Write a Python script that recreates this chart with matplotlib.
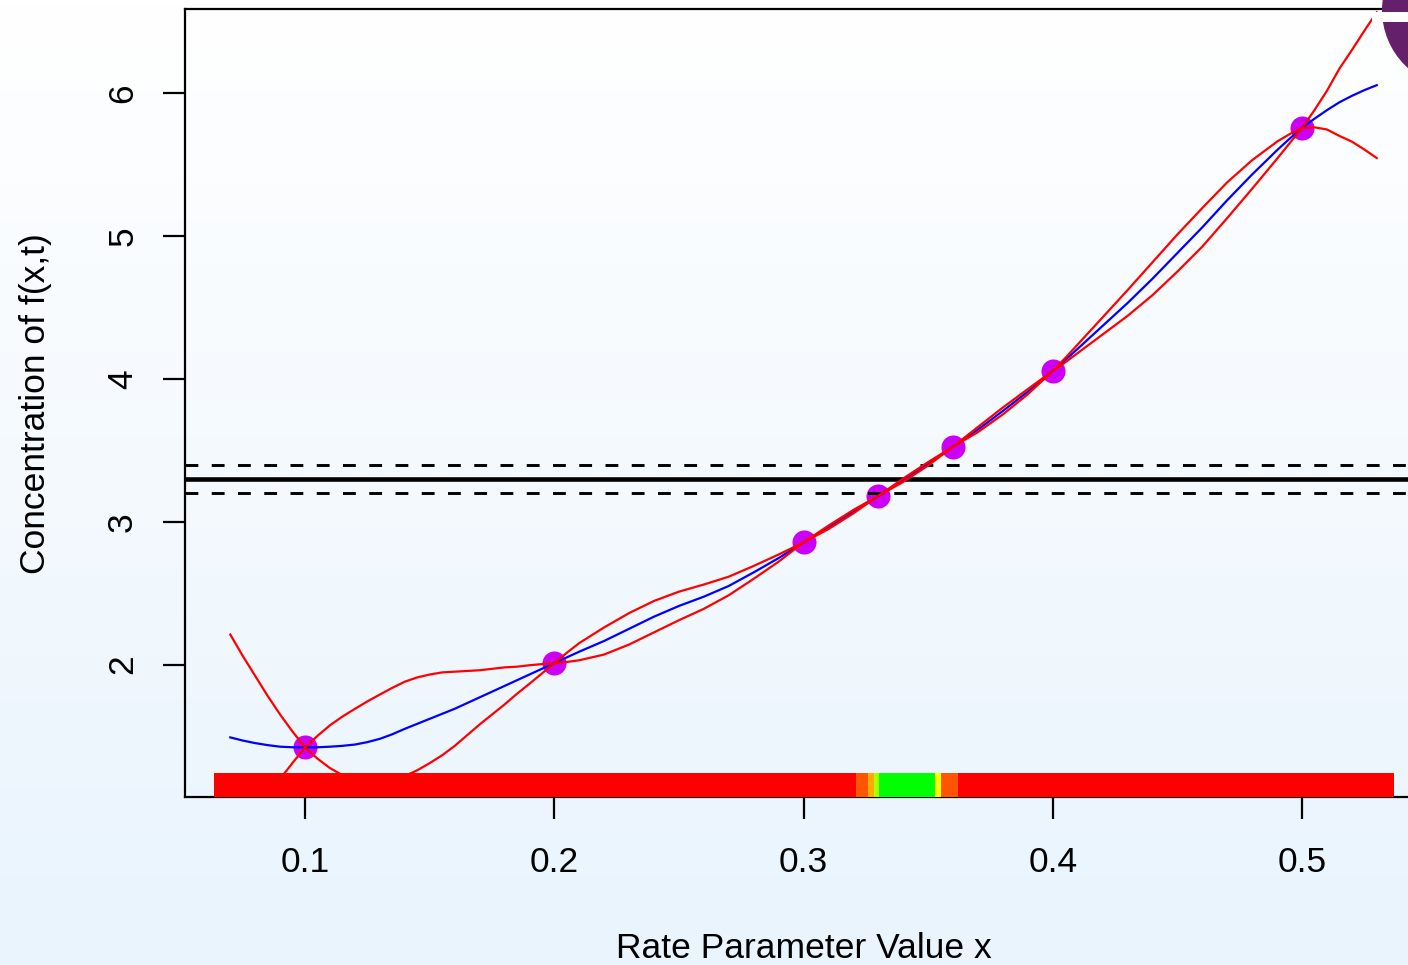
import numpy as np
import matplotlib.pyplot as plt
from matplotlib.patches import Rectangle, Ellipse

plt.rcParams['font.family'] = ['Liberation Sans', 'DejaVu Sans']

# simulator runs
x_runs = [0.1, 0.2, 0.3, 0.33, 0.36, 0.4, 0.5]
f_runs = [1.42, 2.01, 2.855, 3.18, 3.525, 4.055, 5.755]

# emulator mean and +/- 3 sd curves
x_grid = [0.07, 0.075, 0.08, 0.085, 0.09, 0.095, 0.10, 0.105, 0.11, 0.115,
          0.12, 0.125, 0.13, 0.135, 0.14, 0.145, 0.15, 0.155, 0.16, 0.165,
          0.17, 0.175, 0.18, 0.185, 0.19, 0.195, 0.20, 0.205,
          0.21, 0.22, 0.23, 0.24, 0.25, 0.26, 0.27, 0.28, 0.29, 0.30,
          0.31, 0.32, 0.33, 0.34, 0.35, 0.36, 0.37, 0.38, 0.39, 0.40, 0.405,
          0.41, 0.42, 0.43, 0.44, 0.45, 0.46, 0.47, 0.48, 0.49, 0.495,
          0.50, 0.505, 0.51, 0.515, 0.52, 0.525, 0.53]
em_mean = [1.49, 1.468, 1.45, 1.436, 1.425, 1.421, 1.42, 1.421, 1.425, 1.431,
           1.44, 1.457, 1.48, 1.512, 1.55, 1.585, 1.62, 1.655, 1.69, 1.73,
           1.77, 1.81, 1.85, 1.89, 1.93, 1.97, 2.01, 2.05,
           2.09, 2.165, 2.25, 2.335, 2.41, 2.475, 2.55, 2.645, 2.745, 2.855,
           2.96, 3.07, 3.18, 3.29, 3.405, 3.525, 3.645, 3.775, 3.91, 4.055, 4.13,
           4.21, 4.37, 4.53, 4.70, 4.88, 5.06, 5.25, 5.43, 5.60, 5.68,
           5.755, 5.82, 5.88, 5.935, 5.98, 6.02, 6.055]
em_upper = [2.21, 2.06, 1.92, 1.78, 1.65, 1.53, 1.42, 1.501, 1.575, 1.636,
            1.69, 1.742, 1.79, 1.837, 1.88, 1.91, 1.93, 1.945, 1.95, 1.955,
            1.96, 1.97, 1.98, 1.985, 1.995, 2.003, 2.01, 2.082,
            2.15, 2.26, 2.36, 2.445, 2.51, 2.56, 2.615, 2.69, 2.77, 2.855,
            2.972, 3.082, 3.18, 3.302, 3.417, 3.525, 3.663, 3.799, 3.928, 4.055, 4.145,
            4.24, 4.43, 4.62, 4.815, 5.01, 5.195, 5.375, 5.53, 5.66, 5.712,
            5.755, 5.88, 6.015, 6.17, 6.30, 6.435, 6.565]
em_lower = [0.77, 0.876, 0.98, 1.092, 1.20, 1.312, 1.42, 1.341, 1.275, 1.226,
            1.19, 1.172, 1.17, 1.187, 1.22, 1.26, 1.31, 1.365, 1.43, 1.505,
            1.58, 1.65, 1.72, 1.795, 1.865, 1.937, 2.01, 2.018,
            2.03, 2.07, 2.14, 2.225, 2.31, 2.39, 2.485, 2.60, 2.72, 2.855,
            2.948, 3.058, 3.18, 3.278, 3.393, 3.525, 3.627, 3.751, 3.892, 4.055, 4.115,
            4.18, 4.31, 4.44, 4.585, 4.75, 4.925, 5.125, 5.33, 5.54, 5.648,
            5.755, 5.76, 5.745, 5.70, 5.66, 5.605, 5.545]

# observation and its error bounds
z_obs = 3.3
z_bounds = [3.2, 3.4]

# implausibility colour bar (segment edges along x)
imp_edges = [0.0635, 0.3211, 0.3259, 0.3283, 0.3303, 0.3528, 0.3552, 0.3620, 0.5369]
imp_cols = ['#FF0000', '#FF5500', '#FFAA00', '#AAFF00', '#00FF00', '#FFFF00', '#FF5500', '#FF0000']
imp_top = 1.241

W, H = 1408, 965
fig = plt.figure(figsize=(W/100, H/100), dpi=100)

# background gradient white -> light blue
bg = fig.add_axes([0, 0, 1, 1], zorder=-10)
top = np.array([1.0, 1.0, 1.0])
bot = np.array([0xE9, 0xF4, 0xFD]) / 255.0
t = np.linspace(0, 1, 256)[:, None]
grad = top[None, :] * (1 - t) + bot[None, :] * t
bg.imshow(grad[:, None, :], aspect='auto', extent=[0, 1, 0, 1])
bg.axis('off')

# main axes, right edge runs past the figure like in the original
x0, x1, y0, y1 = 184.7, 1422.6, 9.3, 796.7
ax = fig.add_axes([x0/W, 1 - y1/H, (x1-x0)/W, (y1-y0)/H])
ax.patch.set_alpha(0)
ax.set_xlim(0.0517, 0.5484)
ax.set_ylim(1.075, 6.586)

ax.scatter(x_runs, f_runs, s=300, color='#CC00F5', zorder=2, linewidths=0)

ax.axhline(z_obs, color='black', lw=3.3, zorder=3)
for zb in z_bounds:
    ax.axhline(zb, color='black', lw=2.1, ls=(0, (4.4, 4.6)), zorder=3)

ax.plot(x_grid, em_mean, color='blue', lw=1.6, zorder=4, solid_joinstyle='round')
ax.plot(x_grid, em_upper, color='red', lw=1.6, zorder=5, solid_joinstyle='round')
ax.plot(x_grid, em_lower, color='red', lw=1.6, zorder=5, solid_joinstyle='round')

ylo = ax.get_ylim()[0]
for i, c in enumerate(imp_cols):
    ax.add_patch(Rectangle((imp_edges[i], ylo), imp_edges[i+1]-imp_edges[i], imp_top-ylo,
                           facecolor=c, edgecolor='none', lw=0, zorder=6))

for sp in ax.spines.values():
    sp.set_linewidth(1.6)
ax.set_xticks([0.1, 0.2, 0.3, 0.4, 0.5])
ax.set_xticklabels(['0.1', '0.2', '0.3', '0.4', '0.5'])
ax.set_yticks([2, 3, 4, 5, 6])
ax.set_yticklabels(['2', '3', '4', '5', '6'], rotation=90, va='center')
ax.tick_params(axis='both', direction='out', length=15.8, width=1.6, labelsize=25.5)
ax.tick_params(axis='x', pad=20)
ax.tick_params(axis='y', pad=17)

fig.text(804/W, 1 - 949/H, 'Rate Parameter Value x', fontsize=25.5, ha='center', va='center')
fig.text(36/W, 1 - 404/H, 'Concentration of f(x,t)', fontsize=25.5, ha='center', va='center',
         rotation=90)

# purple badge in the top right corner, mostly cut off
fig.patches.append(Ellipse((1460/W, 1 - 10/H), 2*78/W, 2*78/H, transform=fig.transFigure,
                           facecolor='#64206B', edgecolor='none', zorder=20))
fig.patches.append(Rectangle((1372/W, 1 - 22/H), 40/W, 10/H, transform=fig.transFigure,
                             facecolor='white', edgecolor='none', zorder=21))

fig.savefig('out.png', dpi=100)
